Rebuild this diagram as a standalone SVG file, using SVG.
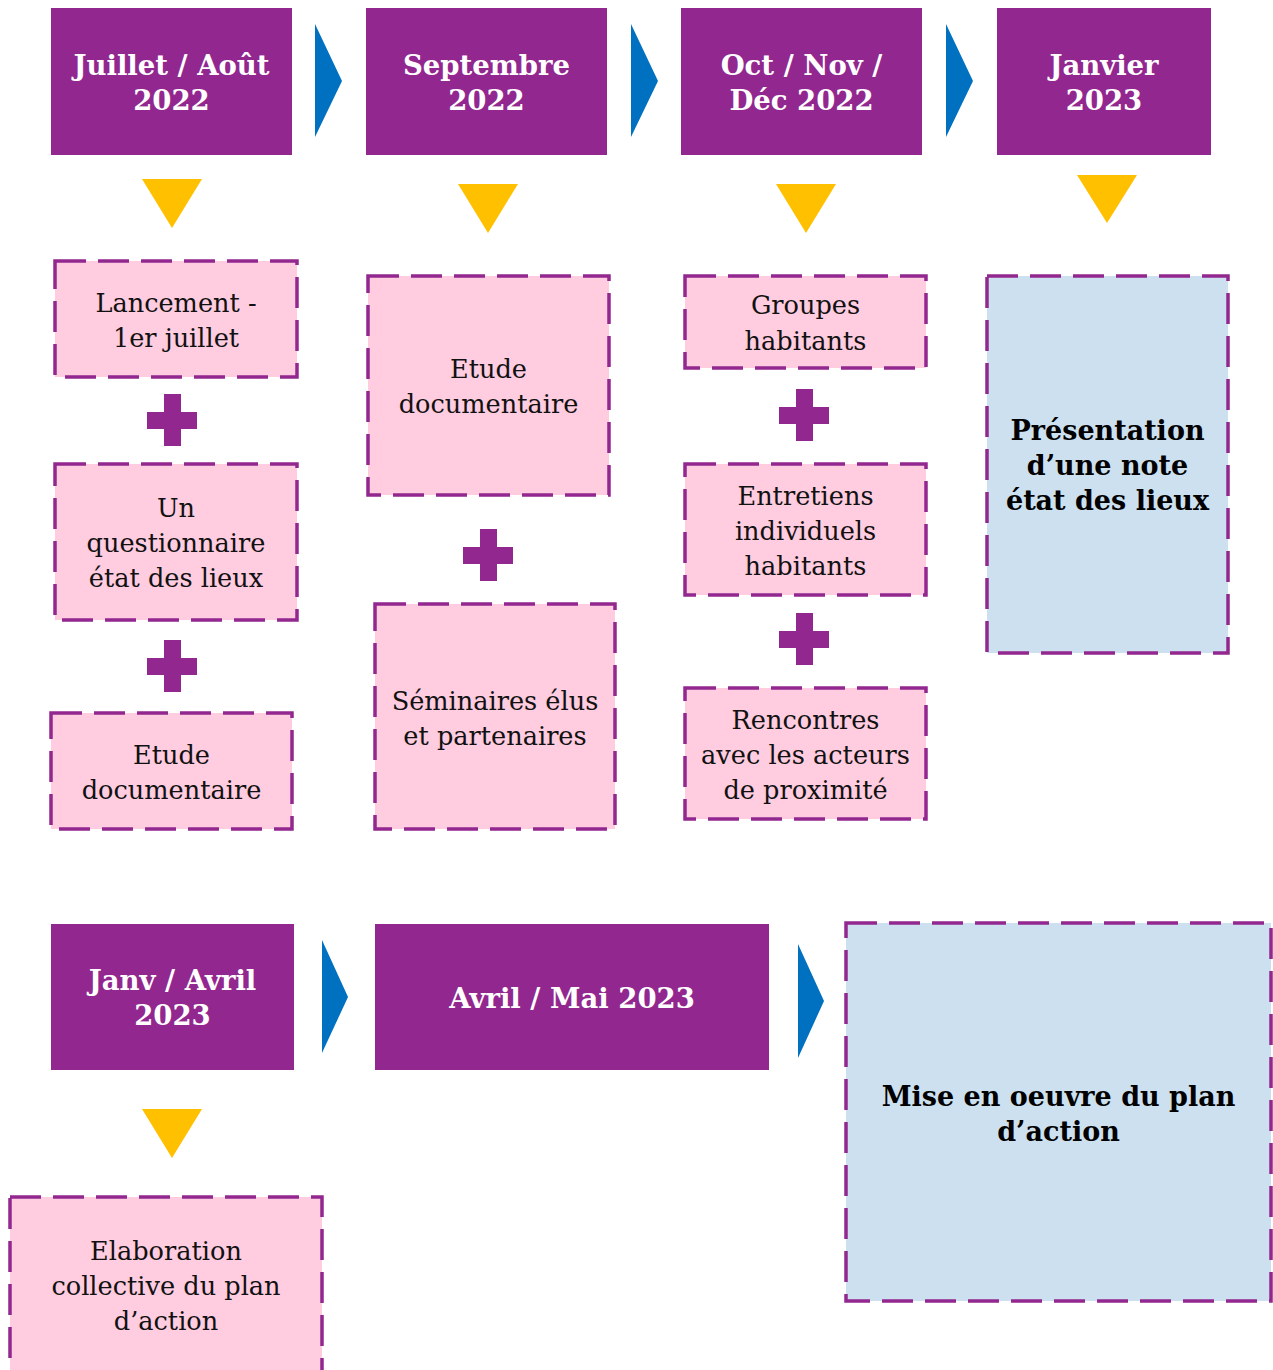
<svg xmlns="http://www.w3.org/2000/svg" width="1273" height="1370" viewBox="0 0 1273 1370">
<style>
.hdr{fill:#92278F}
.hdr-t{font-family:"DejaVu Serif","Liberation Serif",serif;font-weight:bold;font-size:27.5px;fill:#FFFFFF;text-anchor:middle}
.pink{fill:#FFCCE0;stroke:#92278F;stroke-width:3.5;stroke-dasharray:31 12}
.blue{fill:#CCE0F0;stroke:#92278F;stroke-width:3.5;stroke-dasharray:31 12}
.t{font-family:"DejaVu Serif","Liberation Serif",serif;font-size:25.6px;fill:#111111;text-anchor:middle}
.tb{font-family:"DejaVu Serif","Liberation Serif",serif;font-weight:bold;font-size:27px;fill:#000000;text-anchor:middle}
.arrow{fill:#0070C0}
.tri{fill:#FFC000}
.plus{fill:#92278F}
</style>
<rect width="1273" height="1370" fill="#FFFFFF"/>

<g id="connectors">
  <polygon class="arrow" points="315,24 342,81 315,137"/>
  <polygon class="arrow" points="631,24 658,81 631,137"/>
  <polygon class="arrow" points="946,24 973,81 946,137"/>
  <polygon class="arrow" points="322,940 348,997 322,1053"/>
  <polygon class="arrow" points="798,944 824,1001 798,1058"/>
  <polygon class="tri" points="142,179 202,179 172,228"/>
  <polygon class="tri" points="458,184 518,184 488,233"/>
  <polygon class="tri" points="776,184 836,184 806,233"/>
  <polygon class="tri" points="1077,175 1137,175 1107,223"/>
  <polygon class="tri" points="142,1109 202,1109 172,1158"/>
</g>

<g id="plus-signs">
  <path class="plus" d="M164,394h17v18h16v17h-16v17h-17v-17h-17v-17h17z"/>
  <path class="plus" d="M164,640h17v18h16v17h-16v17h-17v-17h-17v-17h17z"/>
  <path class="plus" d="M480,529h17v18h16v17h-16v17h-17v-17h-17v-17h17z"/>
  <path class="plus" d="M796,389h17v18h16v17h-16v17h-17v-17h-17v-17h17z"/>
  <path class="plus" d="M796,613h17v18h16v17h-16v17h-17v-17h-17v-17h17z"/>
</g>

<g id="h-juillet">
  <rect class="hdr" x="51" y="8" width="241" height="147"/>
  <text class="hdr-t" x="171.5" y="75">Juillet / Août</text>
  <text class="hdr-t" x="171.5" y="110">2022</text>
</g>
<g id="h-septembre">
  <rect class="hdr" x="366" y="8" width="241" height="147"/>
  <text class="hdr-t" x="486.5" y="75">Septembre</text>
  <text class="hdr-t" x="486.5" y="110">2022</text>
</g>
<g id="h-oct">
  <rect class="hdr" x="681" y="8" width="241" height="147"/>
  <text class="hdr-t" x="801.5" y="75">Oct / Nov /</text>
  <text class="hdr-t" x="801.5" y="110">Déc 2022</text>
</g>
<g id="h-janvier">
  <rect class="hdr" x="997" y="8" width="214" height="147"/>
  <text class="hdr-t" x="1104" y="75">Janvier</text>
  <text class="hdr-t" x="1104" y="110">2023</text>
</g>
<g id="h-janv-avril">
  <rect class="hdr" x="51" y="924" width="243" height="146"/>
  <text class="hdr-t" x="172.5" y="990">Janv / Avril</text>
  <text class="hdr-t" x="172.5" y="1025">2023</text>
</g>
<g id="h-avril-mai">
  <rect class="hdr" x="375" y="924" width="394" height="146"/>
  <text class="hdr-t" x="572" y="1008">Avril / Mai 2023</text>
</g>

<g id="n-lancement">
  <rect class="pink" x="55" y="261" width="242" height="116"/>
  <text class="t" x="176" y="312">Lancement -</text>
  <text class="t" x="176" y="347">1er juillet</text>
</g>
<g id="n-questionnaire">
  <rect class="pink" x="55" y="464" width="242" height="156"/>
  <text class="t" x="176" y="517">Un</text>
  <text class="t" x="176" y="552">questionnaire</text>
  <text class="t" x="176" y="587">état des lieux</text>
</g>
<g id="n-etude1">
  <rect class="pink" x="51" y="713" width="241" height="116"/>
  <text class="t" x="171.5" y="764">Etude</text>
  <text class="t" x="171.5" y="799">documentaire</text>
</g>
<g id="n-etude2">
  <rect class="pink" x="368" y="276" width="241" height="219"/>
  <text class="t" x="488.5" y="378">Etude</text>
  <text class="t" x="488.5" y="413">documentaire</text>
</g>
<g id="n-seminaires">
  <rect class="pink" x="375" y="604" width="240" height="225"/>
  <text class="t" x="495" y="710">Séminaires élus</text>
  <text class="t" x="495" y="745">et partenaires</text>
</g>
<g id="n-groupes">
  <rect class="pink" x="685" y="276" width="241" height="92"/>
  <text class="t" x="805.5" y="314">Groupes</text>
  <text class="t" x="805.5" y="350">habitants</text>
</g>
<g id="n-entretiens">
  <rect class="pink" x="685" y="464" width="241" height="131"/>
  <text class="t" x="805.5" y="505">Entretiens</text>
  <text class="t" x="805.5" y="540">individuels</text>
  <text class="t" x="805.5" y="575">habitants</text>
</g>
<g id="n-rencontres">
  <rect class="pink" x="685" y="688" width="241" height="131"/>
  <text class="t" x="805.5" y="729">Rencontres</text>
  <text class="t" x="805.5" y="764">avec les acteurs</text>
  <text class="t" x="805.5" y="799">de proximité</text>
</g>
<g id="n-presentation">
  <rect class="blue" x="987" y="276" width="241" height="377"/>
  <text class="tb" x="1107.5" y="440">Présentation</text>
  <text class="tb" x="1107.5" y="475">d’une note</text>
  <text class="tb" x="1107.5" y="510">état des lieux</text>
</g>
<g id="n-elaboration">
  <rect class="pink" x="10" y="1197" width="312" height="220"/>
  <text class="t" x="166" y="1260">Elaboration</text>
  <text class="t" x="166" y="1295">collective du plan</text>
  <text class="t" x="166" y="1330">d’action</text>
</g>
<g id="n-mise-en-oeuvre">
  <rect class="blue" x="846" y="923" width="425" height="378"/>
  <text class="tb" x="1058.5" y="1106">Mise en oeuvre du plan</text>
  <text class="tb" x="1058.5" y="1141">d’action</text>
</g>
</svg>
